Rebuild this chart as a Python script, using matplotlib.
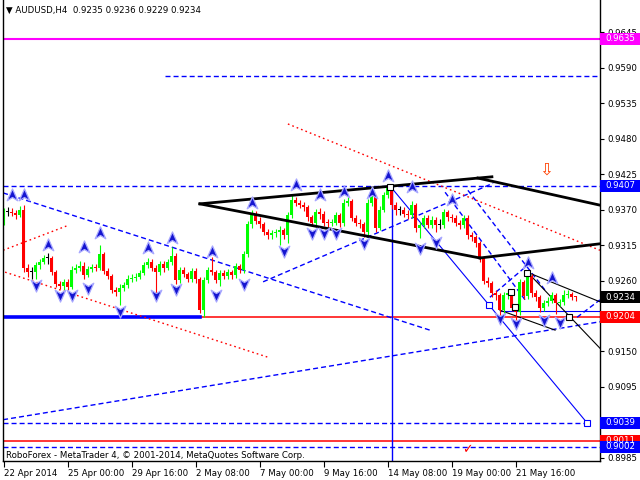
import matplotlib
matplotlib.use("Agg")
import matplotlib.pyplot as plt
import matplotlib.transforms as mtransforms
from matplotlib.path import Path
from matplotlib.patches import Rectangle
import numpy as np

plt.rcParams["lines.scale_dashes"] = False
plt.rcParams["font.family"] = ["DejaVu Sans"]
FS = 6.2

# ---- H4 bars (open of first bar, then closes / highs / lows) ----
FIRST_OPEN = 0.9351
closes = [
    0.9367, 0.9367, 0.9365, 0.9362, 0.9370, 0.9280, 0.9273, 0.9273, 0.9284, 0.9289,
    0.9295, 0.9295, 0.9273, 0.9255, 0.9252, 0.9258, 0.9250, 0.9277, 0.9280, 0.9283,
    0.9269, 0.9278, 0.9281, 0.9280, 0.9301, 0.9275, 0.9267, 0.9245, 0.9242, 0.9249,
    0.9253, 0.9263, 0.9264, 0.9266, 0.9272, 0.9284, 0.9289, 0.9280, 0.9273, 0.9286,
    0.9280, 0.9289, 0.9298, 0.9261, 0.9276, 0.9270, 0.9262, 0.9275, 0.9262, 0.9214,
    0.9261, 0.9276, 0.9273, 0.9261, 0.9271, 0.9267, 0.9273, 0.9268, 0.9282, 0.9276,
    0.9301, 0.9347, 0.9364, 0.9353, 0.9347, 0.9335, 0.9330, 0.9333, 0.9335, 0.9338,
    0.9330, 0.9361, 0.9385, 0.9380, 0.9377, 0.9374, 0.9358, 0.9350, 0.9366, 0.9364,
    0.9350, 0.9349, 0.9350, 0.9361, 0.9349, 0.9380, 0.9383, 0.9357, 0.9350, 0.9347,
    0.9335, 0.9380, 0.9389, 0.9342, 0.9370, 0.9392, 0.9405, 0.9377, 0.9369, 0.9369,
    0.9364, 0.9361, 0.9377, 0.9341, 0.9346, 0.9357, 0.9346, 0.9354, 0.9346, 0.9346,
    0.9366, 0.9358, 0.9357, 0.9349, 0.9346, 0.9357, 0.9330, 0.9327, 0.9318, 0.9295,
    0.9260, 0.9256, 0.9240, 0.9237, 0.9214, 0.9237, 0.9240, 0.9218, 0.9211, 0.9257,
    0.9236, 0.9267, 0.9240, 0.9234, 0.9217, 0.9225, 0.9229, 0.9237, 0.9225, 0.9226,
    0.9237, 0.9239, 0.9235, 0.9234,
]
highs = [
    0.9372, 0.9374, 0.9372, 0.9370, 0.9376, 0.9378, 0.9285, 0.9281, 0.9288, 0.9294,
    0.9300, 0.9302, 0.9298, 0.9276, 0.9260, 0.9263, 0.9262, 0.9282, 0.9285, 0.9290,
    0.9288, 0.9283, 0.9286, 0.9286, 0.9315, 0.9305, 0.9280, 0.9270, 0.9250, 0.9254,
    0.9258, 0.9268, 0.9270, 0.9272, 0.9277, 0.9289, 0.9295, 0.9293, 0.9284, 0.9291,
    0.9290, 0.9294, 0.9312, 0.9302, 0.9281, 0.9281, 0.9274, 0.9280, 0.9279, 0.9266,
    0.9265, 0.9281, 0.9296, 0.9277, 0.9276, 0.9276, 0.9278, 0.9277, 0.9287, 0.9286,
    0.9306, 0.9352, 0.9370, 0.9368, 0.9358, 0.9351, 0.9340, 0.9338, 0.9340, 0.9344,
    0.9342, 0.9366, 0.9392, 0.9390, 0.9385, 0.9382, 0.9378, 0.9362, 0.9371, 0.9373,
    0.9368, 0.9355, 0.9356, 0.9366, 0.9365, 0.9386, 0.9389, 0.9387, 0.9362, 0.9355,
    0.9351, 0.9386, 0.9395, 0.9393, 0.9375, 0.9398, 0.9410, 0.9408, 0.9382, 0.9376,
    0.9374, 0.9369, 0.9383, 0.9380, 0.9351, 0.9362, 0.9361, 0.9360, 0.9358, 0.9356,
    0.9371, 0.9370, 0.9364, 0.9361, 0.9354, 0.9362, 0.9362, 0.9335, 0.9331, 0.9321,
    0.9298, 0.9266, 0.9260, 0.9246, 0.9241, 0.9242, 0.9246, 0.9245, 0.9224, 0.9262,
    0.9261, 0.9273, 0.9270, 0.9246, 0.9238, 0.9230, 0.9234, 0.9242, 0.9241, 0.9231,
    0.9245, 0.9246, 0.9242, 0.9236,
]
lows = [
    0.9346, 0.9360, 0.9360, 0.9355, 0.9358, 0.9274, 0.9265, 0.9262, 0.9262, 0.9278,
    0.9285, 0.9285, 0.9268, 0.9250, 0.9247, 0.9246, 0.9245, 0.9247, 0.9272, 0.9275,
    0.9263, 0.9265, 0.9274, 0.9275, 0.9276, 0.9270, 0.9262, 0.9240, 0.9236, 0.9222,
    0.9244, 0.9249, 0.9257, 0.9259, 0.9262, 0.9268, 0.9280, 0.9275, 0.9237, 0.9268,
    0.9274, 0.9276, 0.9284, 0.9255, 0.9256, 0.9265, 0.9257, 0.9258, 0.9256, 0.9210,
    0.9204, 0.9256, 0.9268, 0.9256, 0.9252, 0.9262, 0.9262, 0.9263, 0.9264, 0.9271,
    0.9272, 0.9297, 0.9342, 0.9348, 0.9342, 0.9330, 0.9325, 0.9325, 0.9328, 0.9315,
    0.9325, 0.9318, 0.9357, 0.9375, 0.9372, 0.9368, 0.9353, 0.9344, 0.9346, 0.9356,
    0.9344, 0.9343, 0.9344, 0.9346, 0.9343, 0.9345, 0.9375, 0.9352, 0.9345, 0.9342,
    0.9328, 0.9330, 0.9376, 0.9336, 0.9338, 0.9366, 0.9388, 0.9371, 0.9362, 0.9362,
    0.9358, 0.9355, 0.9357, 0.9336, 0.9326, 0.9342, 0.9341, 0.9342, 0.9335, 0.9340,
    0.9342, 0.9353, 0.9351, 0.9344, 0.9340, 0.9342, 0.9325, 0.9321, 0.9312, 0.9289,
    0.9254, 0.9250, 0.9234, 0.9230, 0.9207, 0.9210, 0.9232, 0.9212, 0.9199, 0.9207,
    0.9231, 0.9232, 0.9235, 0.9228, 0.9211, 0.9213, 0.9220, 0.9225, 0.9208, 0.9220,
    0.9222, 0.9233, 0.9230, 0.9229,
]

# ---- axis labels ----
date_ticks = [0, 16, 32, 48, 64, 80, 96, 112, 128]
date_labels = ["22 Apr 2014", "25 Apr 00:00", "29 Apr 16:00", "2 May 08:00",
               "7 May 00:00", "9 May 16:00", "14 May 08:00", "19 May 00:00",
               "21 May 16:00"]
price_ticks = [0.9645, 0.9590, 0.9535, 0.9480, 0.9425, 0.9370, 0.9315,
               0.9260, 0.9150, 0.9095, 0.8985]

# ---- price tags on the right scale ----
tag_prices = [0.9635, 0.9407, 0.9204, 0.9039, 0.9011, 0.9002, 0.9234]
tag_colors = ["#FF00FF", "#0000FF", "#FF0000", "#0000FF", "#FF0000", "#0000FF", "#000000"]

# ---- fractal arrows (bar, price) ----
up_bars = [2, 5, 11, 20, 24, 36, 42, 52, 62, 73, 79, 85, 92, 96, 102, 112, 131, 137]
up_prices = [0.9393, 0.9393, 0.9315, 0.9312, 0.9334, 0.9311, 0.9326, 0.9304, 0.9380,
             0.9408, 0.9393, 0.9397, 0.9396, 0.9422, 0.9405, 0.9385, 0.9287, 0.9264]
dn_bars = [8, 14, 17, 21, 29, 38, 43, 53, 60, 70, 77, 80, 83, 90, 104, 108, 124, 128, 135, 139]
dn_prices = [0.9253, 0.9238, 0.9238, 0.9248, 0.9213, 0.9238, 0.9247, 0.9238, 0.9255,
             0.9306, 0.9334, 0.9334, 0.9334, 0.9318, 0.9311, 0.9320, 0.9202, 0.9194,
             0.9199, 0.9196]

# ---- drawn objects: ((bar0, price0), (bar1, price1)) ----
thick_black = [((49.1, 0.9379), (122.1, 0.9421)), ((118.6, 0.9419), (149.1, 0.9377)),
               ((49.1, 0.9379), (119.1, 0.9295)), ((119.1, 0.9295), (149.1, 0.9317))]
thin_black = [((130.9, 0.9273), (149.1, 0.9227)), ((131.6, 0.9269), (149.1, 0.9155)),
              ((124.1, 0.9214), (137.9, 0.9183))]
red_dotted = [((71.1, 0.9503), (149.1, 0.9307)), ((-0.1, 0.9307), (15.9, 0.9345)),
              ((0.4, 0.9273), (66.1, 0.9141))]
blue_dashed = [((-0.1, 0.9396), (107.1, 0.9182)), ((-0.1, 0.9044), (149.1, 0.9196)),
               ((64.9, 0.9258), (122.4, 0.9411)), ((110.4, 0.9397), (130.4, 0.9230)),
               ((116.1, 0.9400), (135.4, 0.9245)), ((121.6, 0.9234), (131.6, 0.9287)),
               ((143.4, 0.9203), (149.1, 0.9230)),
               ((-0.2, 0.9407), (149.2, 0.9407)), ((40.4, 0.9578), (149.2, 0.9578)),
               ((-0.2, 0.9039), (145.9, 0.9039)), ((-0.2, 0.9002), (149.2, 0.9002))]
blue_solid = [((97.4, 0.9401), (145.9, 0.9039)), ((124.1, 0.9213), (149.2, 0.9213))]
black_squares = [(96.6, 0.9405), (126.9, 0.9242), (127.9, 0.9219), (130.9, 0.9272), (141.4, 0.9203)]
blue_squares = [(121.4, 0.9222), (145.9, 0.9039)]
VLINE_BAR = 97.1

fig = plt.figure(figsize=(6.4, 4.8), dpi=100)
ax = fig.add_axes([3 / 640, 19 / 480, 597 / 640, 461 / 480])
ax.set_xlim(-0.125, 149.125)
ax.set_ylim(0.89799, 0.96954)

# horizontal levels
ax.axhline(0.9635, color="#FF00FF", lw=1.5, zorder=1)
ax.axhline(0.9011, color="#FF0000", lw=1.1, zorder=1)
ax.plot([49, 149.2], [0.9204, 0.9204], color="#FF0000", lw=1.1, zorder=1)
ax.plot([-0.2, 49], [0.9204, 0.9204], color="#0000FF", lw=2.6, zorder=1)
ax.plot([VLINE_BAR, VLINE_BAR], [0.9407, 0.89799], color="#0000FF", lw=1.0, zorder=1)

for (x0, y0), (x1, y1) in blue_dashed:
    ax.plot([x0, x1], [y0, y1], color="#0000FF", lw=1.0, dashes=(3.6, 2.2), zorder=1)
for (x0, y0), (x1, y1) in red_dotted:
    ax.plot([x0, x1], [y0, y1], color="#FF0000", lw=1.0, dashes=(1.2, 2.2), zorder=1)
for (x0, y0), (x1, y1) in blue_solid:
    ax.plot([x0, x1], [y0, y1], color="#0000FF", lw=0.8, zorder=1)
for (x0, y0), (x1, y1) in thin_black:
    ax.plot([x0, x1], [y0, y1], color="black", lw=0.8, zorder=1)
for (x0, y0), (x1, y1) in thick_black:
    ax.plot([x0, x1], [y0, y1], color="black", lw=2.0, zorder=3)

# candles
x = np.arange(len(closes))
c = np.array(closes)
o = np.array([FIRST_OPEN] + closes[:-1])
cols = np.where(c > o, "#00FF00", np.where(c < o, "#FF0000", "#000000"))
ax.vlines(x, lows, highs, colors=cols, lw=0.8, zorder=2)
body = np.maximum(np.abs(c - o), 0.00016)
ax.bar(x, body, bottom=np.minimum(o, c), width=0.72, color=cols, lw=0, zorder=2)

# fractal arrows
up_arrow = Path([(0, 1), (0.8, -0.8), (0, -0.3), (-0.8, -0.8), (0, 1)],
                [Path.MOVETO, Path.LINETO, Path.LINETO, Path.LINETO, Path.CLOSEPOLY])
dn_arrow = Path([(0, -1), (0.8, 0.8), (0, 0.3), (-0.8, 0.8), (0, -1)],
                [Path.MOVETO, Path.LINETO, Path.LINETO, Path.LINETO, Path.CLOSEPOLY])
ax.plot(up_bars, up_prices, ls="none", marker=up_arrow, ms=9.5,
        mfc="#1515D0", mec="#A8A8FF", mew=0.9, zorder=4)
ax.plot(dn_bars, dn_prices, ls="none", marker=dn_arrow, ms=9.5,
        mfc="#1515D0", mec="#A8A8FF", mew=0.9, zorder=4)

# object anchors
ax.plot(*zip(*black_squares), ls="none", marker="s", ms=4, mfc="white", mec="black", mew=0.8, zorder=4)
ax.plot(*zip(*blue_squares), ls="none", marker="s", ms=4, mfc="white", mec="#0000FF", mew=0.8, zorder=4)

ax.text(135.6, 0.9432, "\u21e9", color="#FF4000", fontsize=12, ha="center", va="center")
ax.text(115.9, 0.8997, "\u2713", color="#FF0000", fontsize=9, ha="center", va="center")

# axes styling
for side in ["left", "right", "bottom"]:
    ax.spines[side].set_color("black")
    ax.spines[side].set_linewidth(1.0)
ax.spines["top"].set_visible(False)
ax.yaxis.tick_right()
ax.set_yticks(price_ticks)
ax.set_yticklabels([f"{p:.4f}" for p in price_ticks])
ax.tick_params(axis="y", length=3, width=0.8, pad=2, labelsize=FS)
ax.set_xticks(date_ticks)
ax.set_xticklabels(date_labels, ha="left")
ax.tick_params(axis="x", length=4, width=0.8, pad=2, labelsize=FS)

# price tags
blend = mtransforms.blended_transform_factory(ax.transAxes, ax.transData)
tag_h = 12 * (0.96954 - 0.89799) / 461
for p, col in zip(tag_prices, tag_colors):
    ax.add_patch(Rectangle((1.0, p - tag_h / 2), 40 / 597, tag_h, transform=blend,
                           facecolor=col, edgecolor="none", clip_on=False, zorder=5))
    ax.text(1.0 + 5 / 597, p, f"{p:.4f}", transform=blend, color="white",
            fontsize=FS, va="center", ha="left", clip_on=False, zorder=6)

fig.text(6 / 640, 1 - 10 / 480, "\u25bc AUDUSD,H4  0.9235 0.9236 0.9229 0.9234",
         fontsize=FS, va="center", ha="left")
fig.text(6 / 640, 1 - 455 / 480,
         "RoboForex - MetaTrader 4, \u00a9 2001-2014, MetaQuotes Software Corp.",
         fontsize=FS, va="center", ha="left")

fig.savefig("out.png", dpi=100, facecolor="white")
